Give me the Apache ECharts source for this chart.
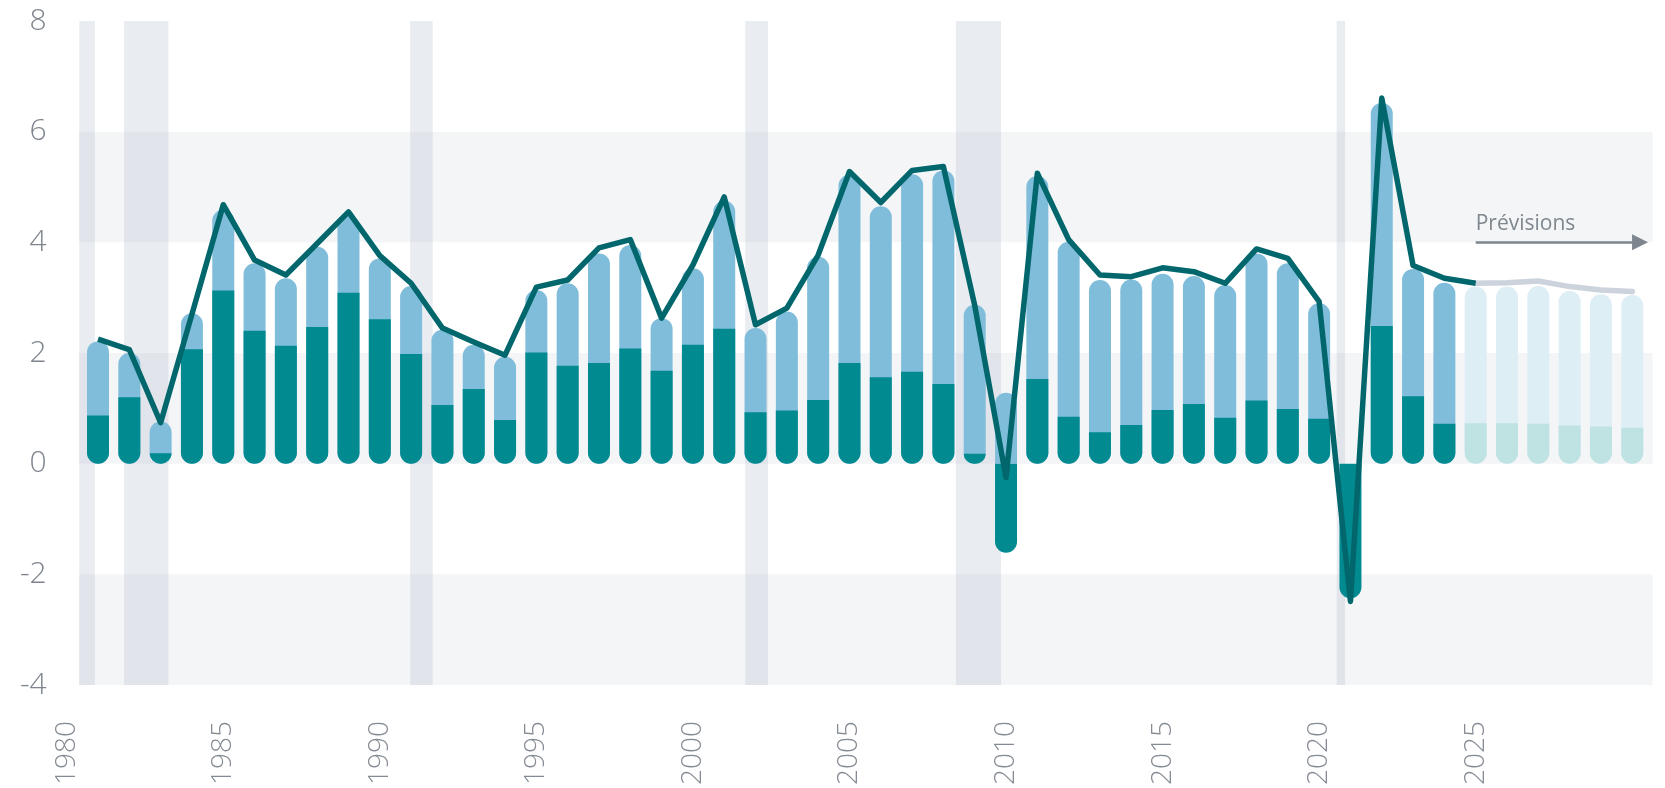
<!DOCTYPE html>
<html>
<head>
<meta charset="utf-8">
<script src="https://cdn.jsdelivr.net/npm/echarts@6/dist/echarts.min.js"></script>
<style>
  html, body { margin: 0; padding: 0; background: #fff; }
  #chart { width: 1665px; height: 788px; }
</style>
</head>
<body>
<div id="chart"></div>
<script>
// années, composante foncée et sommet des barres
var years = [1981, 1982, 1983, 1984, 1985, 1986, 1987, 1988, 1989, 1990,
  1991, 1992, 1993, 1994, 1995, 1996, 1997, 1998, 1999, 2000,
  2001, 2002, 2003, 2004, 2005, 2006, 2007, 2008, 2009, 2010,
  2011, 2012, 2013, 2014, 2015, 2016, 2017, 2018, 2019, 2020,
  2021, 2022, 2023, 2024, 2025, 2026, 2027, 2028, 2029, 2030];
var darkPart = [0.87, 1.20, 0.19, 2.07, 3.13, 2.40, 2.13, 2.47, 3.09, 2.61,
  1.98, 1.06, 1.35, 0.79, 2.01, 1.77, 1.82, 2.08, 1.68, 2.15,
  2.44, 0.93, 0.96, 1.15, 1.82, 1.56, 1.66, 1.44, 0.18, -1.61,
  1.53, 0.85, 0.57, 0.70, 0.97, 1.08, 0.83, 1.14, 0.99, 0.81,
  -2.43, 2.49, 1.22, 0.72, 0.73, 0.73, 0.72, 0.69, 0.67, 0.65];
var barTop = [2.21, 2.00, 0.76, 2.72, 4.59, 3.62, 3.35, 3.92, 4.48, 3.71,
  3.21, 2.42, 2.15, 1.93, 3.14, 3.26, 3.80, 3.95, 2.63, 3.53,
  4.75, 2.45, 2.75, 3.74, 5.22, 4.65, 5.23, 5.30, 2.87, 1.28,
  5.20, 4.01, 3.32, 3.33, 3.43, 3.39, 3.23, 3.80, 3.62, 2.90,
  0, 6.52, 3.52, 3.27, 3.20, 3.20, 3.21, 3.12, 3.06, 3.05];
// courbe : historique 1981-2025, prévisions 2025-2030
var lineYearsPast = years.slice(0, 45);
var lineValuesPast = [2.25, 2.06, 0.74, 2.70, 4.68, 3.68, 3.41, 3.98, 4.55, 3.76,
  3.26, 2.45, 2.20, 1.96, 3.19, 3.32, 3.90, 4.05, 2.63, 3.59,
  4.82, 2.51, 2.81, 3.77, 5.28, 4.72, 5.30, 5.37, 2.86, -0.25,
  5.25, 4.05, 3.41, 3.38, 3.54, 3.47, 3.26, 3.88, 3.71, 2.93,
  -2.49, 6.61, 3.58, 3.35, 3.26];
var lineYearsForecast = [2025, 2026, 2027, 2028, 2029, 2030];
var lineValuesForecast = [3.26, 3.27, 3.30, 3.20, 3.14, 3.11];
var firstForecastYear = 2025;
var arrowEnd = 2030.25;
var arrowLevel = 4;

// récessions (zones grises)
var recessions = [[1980.40, 1980.90], [1981.83, 1983.25], [1990.97, 1991.69],
  [2001.67, 2002.40], [2008.40, 2009.84], [2020.56, 2020.83]];
var shadedRows = [[4, 6], [0, 2], [-4, -2]];
var tickLabels = ['1980', '1985', '1990', '1995', '2000', '2005', '2010', '2015', '2020', '2025'];

var xMin = 1980, xMax = 2030.65, plotStart = 1980.4;
var R = 11;

var chart = echarts.init(document.getElementById('chart'));

function isForecast(y) {
  return y >= firstForecastYear;
}

// barre pâle : du zéro jusqu'au sommet, la foncée est dessinée par-dessus
var lightData = years.map(function (y, i) {
  return {
    value: [y, barTop[i]],
    itemStyle: {
      color: isForecast(y) ? '#ddeef5' : '#80bdda',
      borderRadius: darkPart[i] < 0 ? [R, R, 0, 0] : [R, R, R, R]
    }
  };
});
var darkData = years.map(function (y, i) {
  return {
    value: [y, darkPart[i]],
    itemStyle: { color: isForecast(y) ? '#bfe2e3' : '#028a91' }
  };
});

var areas = [];
shadedRows.forEach(function (r) {
  areas.push([
    { xAxis: plotStart, yAxis: r[0], itemStyle: { color: '#f4f5f7' } },
    { xAxis: xMax, yAxis: r[1] }
  ]);
});
recessions.forEach(function (r) {
  areas.push([
    { xAxis: r[0], yAxis: -4, itemStyle: { color: 'rgba(174,185,200,0.27)' } },
    { xAxis: r[1], yAxis: 8 }
  ]);
});

var labelFont = 'Open Sans';

var option = {
  animation: false,
  grid: { left: 66.7, right: 12.4, top: 21, bottom: 103 },
  xAxis: {
    type: 'value',
    min: xMin,
    max: xMax,
    interval: 5,
    axisLine: { show: false },
    axisTick: { show: false },
    splitLine: { show: false },
    axisLabel: {
      rotate: 90,
      margin: 36,
      color: '#858b94',
      fontFamily: labelFont,
      fontWeight: 300,
      fontSize: 28,
      formatter: function (v) {
        var s = String(Math.round(v));
        return tickLabels.indexOf(s) >= 0 ? s : '';
      }
    }
  },
  yAxis: {
    type: 'value',
    min: -4,
    max: 8,
    interval: 2,
    axisLine: { show: false },
    axisTick: { show: false },
    splitLine: { show: false },
    axisLabel: {
      margin: 20,
      color: '#7f858e',
      fontFamily: labelFont,
      fontWeight: 300,
      fontSize: 30
    }
  },
  series: [
    {
      name: 'total',
      type: 'bar',
      barWidth: 22,
      barGap: '-100%',
      z: 2,
      data: lightData,
      markArea: {
        silent: true,
        label: { show: false },
        data: areas
      }
    },
    {
      name: 'composante',
      type: 'bar',
      barWidth: 22,
      barGap: '-100%',
      z: 3,
      data: darkData,
      itemStyle: { borderRadius: [0, 0, R, R] }
    },
    {
      name: 'prévisions',
      type: 'line',
      z: 4,
      showSymbol: false,
      silent: true,
      data: lineYearsForecast.map(function (y, i) { return [y, lineValuesForecast[i]]; }),
      lineStyle: { color: '#ccd3dc', width: 5.5, cap: 'round', join: 'round' },
      markLine: {
        silent: true,
        symbol: ['none', 'triangle'],
        symbolSize: 16,
        lineStyle: { color: '#7d868e', width: 2.5, type: 'solid' },
        label: {
          show: true,
          position: 'insideStartTop',
          formatter: 'Prévisions',
          color: '#7f878f',
          fontFamily: labelFont,
          fontSize: 21,
          distance: [0, 8]
        },
        data: [[
          { coord: [firstForecastYear, arrowLevel] },
          { coord: [arrowEnd, arrowLevel] }
        ]]
      }
    },
    {
      name: 'croissance',
      type: 'line',
      z: 5,
      showSymbol: false,
      silent: true,
      data: lineYearsPast.map(function (y, i) { return [y, lineValuesPast[i]]; }),
      lineStyle: { color: '#02676c', width: 5.5, join: 'round' }
    }
  ]
};

chart.setOption(option);
</script>
</body>
</html>
